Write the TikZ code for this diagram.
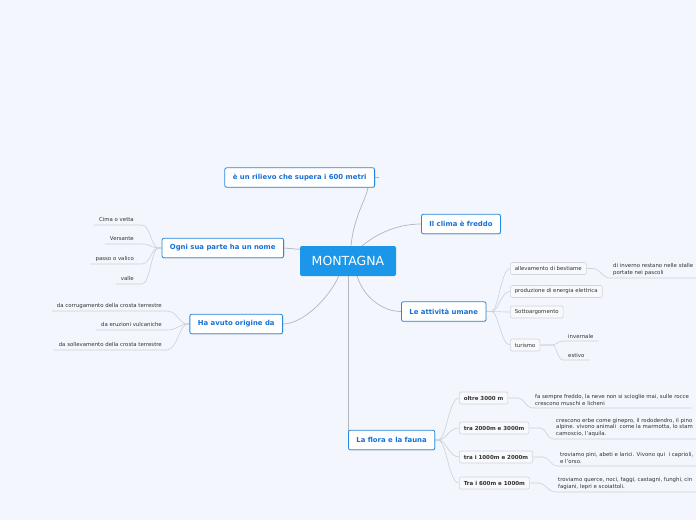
\documentclass[tikz,border=0pt]{standalone}
\usepackage{fontspec}
\setmainfont{DejaVu Sans}
\usepackage{tikz}
\usetikzlibrary{positioning, calc, shadows}
\usepackage{xcolor}
\definecolor{bgcol}{RGB}{243,246,253}
\definecolor{rootblue}{RGB}{27,150,232}
\definecolor{topicblue}{RGB}{38,136,222}
\definecolor{titleblue}{RGB}{22,112,212}
\definecolor{linegray}{RGB}{178,181,189}
\definecolor{twiggray}{RGB}{204,208,216}
\definecolor{subline}{RGB}{208,212,220}
\definecolor{subfill}{RGB}{248,249,252}
\definecolor{textgray}{RGB}{50,50,50}
\pgfdeclarelayer{bg}
\pgfsetlayers{bg,main}

\begin{document}
\begin{tikzpicture}[x=1pt, y=-1pt, every node/.style={font=\fontsize{5.4}{6.4}\selectfont, text=textgray},
  root/.style={fill=rootblue, rounded corners=2pt, text=white, font=\fontsize{12.5}{14}\selectfont, minimum width=96pt, minimum height=30pt},
  topic/.style={draw=topicblue, fill=white, rounded corners=2pt, line width=0.8pt, text=titleblue, font=\bfseries\fontsize{6.9}{8}\selectfont, inner xsep=8pt, minimum height=19.5pt, drop shadow={opacity=0.22, shadow xshift=0.5pt, shadow yshift=-0.8pt}},
  sub/.style={draw=subline, fill=subfill, rounded corners=2pt, line width=0.6pt, inner xsep=4.5pt, inner ysep=1pt, minimum height=12pt, anchor=west},
  subb/.style={sub, font=\bfseries\fontsize{5.5}{6.5}\selectfont},
  leafl/.style={anchor=south east, inner xsep=5pt, inner ysep=2.5pt, text depth=1pt},
  leafr/.style={anchor=south west, inner xsep=3pt, inner ysep=2.5pt, align=left},
  branch/.style={draw=linegray, line width=0.7pt},
  twig/.style={draw=twiggray, line width=0.6pt}]
  \useasboundingbox (0,0) rectangle (696,520);
  \clip (0,0) rectangle (696,520);

  \node[root] (montagna) at (348,261) {MONTAGNA};

  \node[topic, anchor=east] (rilievo) at (375,177.5) {è un rilievo che supera i 600 metri};
  \node[topic, anchor=west] (clima) at (421,224) {Il clima è freddo};
  \node[topic, anchor=east] (ogni) at (284,248) {Ogni sua parte ha un nome};
  \node[topic, anchor=east] (origine) at (283,324) {Ha avuto origine da};
  \node[topic, anchor=west] (attivita) at (401,311.5) {Le attività umane};
  \node[topic, anchor=west] (flora) at (348,440) {La flora e la fauna};

  \node[leafl] (cima) at (139,225) {Cima o vetta};
  \node[leafl] (versante) at (139,244) {Versante};
  \node[leafl] (passo) at (139,264) {passo o valico};
  \node[leafl] (valle) at (139,284) {valle};

  \node[leafl] (corrug) at (167,311) {da corrugamento della crosta terrestre};
  \node[leafl] (eruz) at (167,330) {da eruzioni vulcaniche};
  \node[leafl] (sollev) at (167,350) {da sollevamento della crosta terrestre};

  \node[sub] (allev) at (510,268.5) {allevamento di bestiame};
  \node[sub] (energia) at (510,291.5) {produzione di energia elettrica};
  \node[sub] (sottoarg) at (510,312) {Sottoargomento};
  \node[sub] (turismo) at (510,345) {turismo};

  \node[leafr] (stalle) at (610,278) {di inverno restano nelle stalle\\portate nei pascoli};
  \node[leafr, inner xsep=5pt] (invern) at (563,341) {invernale};
  \node[leafr, inner xsep=5pt] (estivo) at (563,360) {estivo};

  \node[subb] (oltre) at (459,398) {oltre 3000 m};
  \node[subb] (tra_alta) at (459,428) {tra 2000m e 3000m};
  \node[subb] (tra_media) at (459,457) {tra i 1000m e 2000m};
  \node[subb] (tra_bassa) at (459,483) {Tra i 600m e 1000m};

  \node[leafr] (sempre) at (532,408) {fa sempre freddo, la neve non si scioglie mai, sulle rocce\\crescono muschi e licheni};
  \node[leafr] (erbe) at (553,439) {crescono erbe come ginepro, il rododendro, il pino\\alpine. vivono animali\ \ come la marmotta, lo stam\\camoscio, l'aquila.};
  \node[leafr] (pini) at (557,466) {troviamo pini, abeti e larici. Vivono qui\ \ i caprioli,\\e l'orso.};
  \node[leafr] (querce) at (555,492) {troviamo querce, noci, faggi, castagni, funghi, cin\\fagiani, lepri e scoiattoli.};

  \begin{pgfonlayer}{bg}
    \fill[bgcol] (0,0) rectangle (696,520);
    \draw[branch] ($(montagna.north)+(3,0)$) .. controls +(3,-30) and +(-2,12) .. ([xshift=-7pt]rilievo.south east) -- ([xshift=-7pt]rilievo.east) -- ([xshift=4pt]rilievo.east);
    \draw[branch] ($(montagna.north)+(10,4)$) .. controls +(14,-14) and +(-26,0) .. (clima.west);
    \draw[branch] (ogni.east) -- ($(montagna.north west)+(6,4)$);
    \draw[branch] ($(montagna.south)+(-8,-4)$) .. controls +(-6,20) and +(22,0) .. (origine.east);
    \draw[branch] ($(montagna.south)+(8,-4)$) .. controls +(6,25) and +(-18,0) .. (attivita.west);
    \draw[branch] (montagna.south) -- (flora.west);

    \draw[twig] (ogni.west) -- ++(-3,0) .. controls +(-7,0) and +(8,0) .. ([xshift=3pt]cima.south east) -- (cima.south west);
    \draw[twig] (ogni.west) -- ++(-3,0) .. controls +(-7,0) and +(8,0) .. ([xshift=3pt]versante.south east) -- (versante.south west);
    \draw[twig] (ogni.west) -- ++(-3,0) .. controls +(-7,0) and +(8,0) .. ([xshift=3pt]passo.south east) -- (passo.south west);
    \draw[twig] (ogni.west) -- ++(-3,0) .. controls +(-7,0) and +(8,0) .. ([xshift=3pt]valle.south east) -- (valle.south west);

    \draw[twig] (origine.west) -- ++(-2,0) .. controls +(-8,0) and +(10,0) .. (corrug.south east) -- (corrug.south west);
    \draw[twig] (origine.west) -- ++(-2,0) .. controls +(-8,0) and +(10,0) .. (eruz.south east) -- (eruz.south west);
    \draw[twig] (origine.west) -- ++(-2,0) .. controls +(-8,0) and +(10,0) .. (sollev.south east) -- (sollev.south west);

    \draw[twig] (attivita.east) -- ++(5,0) .. controls +(7,0) and +(-9,0) .. (allev.west);
    \draw[twig] (attivita.east) -- ++(5,0) .. controls +(7,0) and +(-9,0) .. (energia.west);
    \draw[twig] (attivita.east) -- ++(5,0) .. controls +(7,0) and +(-9,0) .. (sottoarg.west);
    \draw[twig] (attivita.east) -- ++(5,0) .. controls +(7,0) and +(-9,0) .. (turismo.west);
    \draw[twig] (allev.east) -- ++(6,0) .. controls +(8,0) and +(-8,0) .. (stalle.south west) -- (stalle.south east);
    \draw[twig] (turismo.east) -- ++(12,0) .. controls +(4,0) and +(-5,0) .. (invern.south west) -- (invern.south east);
    \draw[twig] (turismo.east) -- ++(12,0) .. controls +(4,0) and +(-5,0) .. (estivo.south west) -- (estivo.south east);

    \draw[twig] (flora.east) -- ++(3,0) .. controls +(8,0) and +(-10,0) .. (oltre.west);
    \draw[twig] (flora.east) -- ++(3,0) .. controls +(8,0) and +(-10,0) .. (tra_alta.west);
    \draw[twig] (flora.east) -- ++(3,0) .. controls +(8,0) and +(-10,0) .. (tra_media.west);
    \draw[twig] (flora.east) -- ++(3,0) .. controls +(8,0) and +(-10,0) .. (tra_bassa.west);
    \draw[twig] (oltre.east) -- ++(10,0) .. controls +(6,0) and +(-6,0) .. (sempre.south west) -- (sempre.south east);
    \draw[twig] (tra_alta.east) -- ++(11,0) .. controls +(6,0) and +(-6,0) .. (erbe.south west) -- (erbe.south east);
    \draw[twig] (tra_media.east) -- ++(10,0) .. controls +(6,0) and +(-6,0) .. (pini.south west) -- (pini.south east);
    \draw[twig] (tra_bassa.east) -- ++(9,0) .. controls +(6,0) and +(-6,0) .. (querce.south west) -- (querce.south east);
  \end{pgfonlayer}
\end{tikzpicture}
\end{document}
